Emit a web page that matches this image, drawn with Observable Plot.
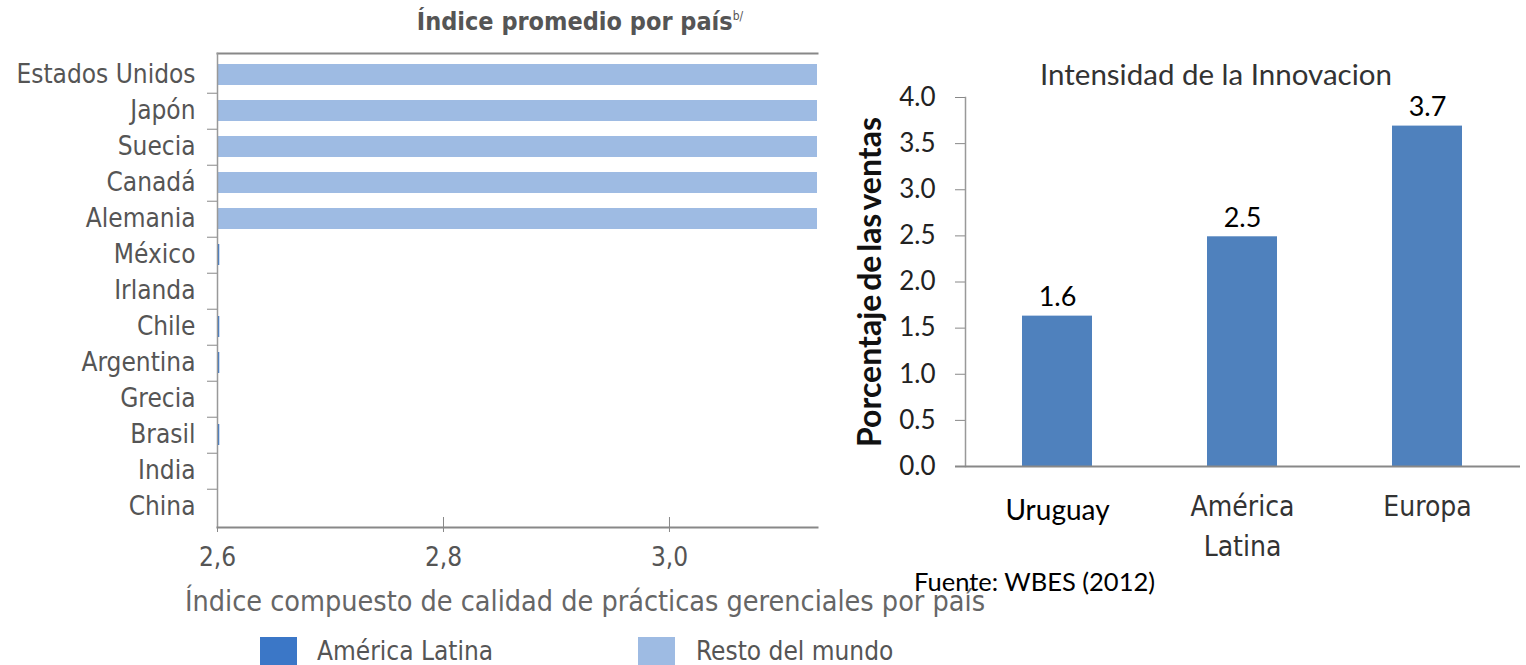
<!DOCTYPE html>
<html>
<head>
<meta charset="utf-8">
<script src="https://cdn.jsdelivr.net/npm/d3@7"></script>
<script src="https://cdn.jsdelivr.net/npm/@observablehq/plot@0.6"></script>
<style>
  html, body { margin: 0; padding: 0; background: #fff; }
  #root { position: relative; width: 1526px; height: 665px; overflow: hidden; background: #fff; }
  .abs { position: absolute; white-space: nowrap; }
  .cond { font-family: "DejaVu Sans Condensed", "DejaVu Sans", sans-serif; }
  svg { background: transparent !important; }
</style>
</head>
<body>
<div id="root">
  <div id="left" class="abs" style="left:0;top:0;"></div>
  <div id="right" class="abs" style="left:830px;top:0;"></div>
  <div class="abs cond" style="left:380px;top:7px;width:400px;text-align:center;font-weight:bold;font-size:25px;color:#555;">Índice promedio por país<sup style="font-size:12px;font-weight:normal;vertical-align:10px;">b/</sup></div>
  <div class="abs cond" style="left:0;top:585px;width:1170px;text-align:center;font-size:28.5px;color:#666;">Índice compuesto de calidad de prácticas gerenciales por país</div>
  <div id="legend"></div>
  <div class="abs" style="left:914px;top:566px;font-family:Lato,sans-serif;font-size:25.5px;color:#000;">Fuente: WBES (2012)</div>
  <div class="abs" style="left:868px;top:282px;transform:translate(-50%,-50%) rotate(-90deg);font-family:Lato,sans-serif;font-weight:bold;font-size:32px;color:#111;word-spacing:-4px;">Porcentaje de las ventas</div>
  <div class="abs" style="left:1016px;top:56px;width:400px;text-align:center;font-family:Lato,sans-serif;font-size:29.5px;color:#333;">Intensidad de la Innovacion</div>
</div>
<script>
// ---- Left chart data ----
const countries = ["Estados Unidos","Japón","Suecia","Canadá","Alemania","México","Irlanda","Chile","Argentina","Grecia","Brasil","India","China"];
const indexValues = [3.33, 3.23, 3.20, 3.17, 3.16, 2.602, 2.600, 2.602, 2.602, 2.600, 2.602, 2.600, 2.600];
const countryGroups = ["Resto del mundo","Resto del mundo","Resto del mundo","Resto del mundo","Resto del mundo","América Latina","Resto del mundo","América Latina","América Latina","Resto del mundo","América Latina","Resto del mundo","Resto del mundo"];
const groupNames = ["América Latina","Resto del mundo"];
const groupColors = ["#3b77c7","#9ebbe3"];
const xTicks = [2.6, 2.8, 3.0];

// ---- Right chart data ----
const regions = ["Uruguay","América Latina","Europa"];
const regionLabels = ["Uruguay","América\nLatina","Europa"];
const intensity = [1.63, 2.49, 3.69];
const yTicks = [0, 0.5, 1.0, 1.5, 2.0, 2.5, 3.0, 3.5, 4.0];

const leftData = countries.map((c, i) => ({country: c, value: indexValues[i], group: countryGroups[i]}));
const rightData = regions.map((r, i) => ({region: r, label: regionLabels[i], value: intensity[i]}));

const xMin = 2.6, xMax = 3.131;
const unitPerPx = (xMax - xMin) / 600;
const step = 474 / countries.length;

const left = Plot.plot({
  width: 830, height: 580,
  marginTop: 53, marginBottom: 53, marginLeft: 217, marginRight: 13,
  style: {fontFamily: "'DejaVu Sans Condensed', 'DejaVu Sans', sans-serif", fontSize: "26px", color: "#555", background: "transparent", overflow: "visible"},
  x: {domain: [xMin, xMax]},
  y: {domain: countries, paddingInner: 0.42, paddingOuter: 0.21},
  color: {domain: groupNames, range: groupColors},
  marks: [
    Plot.barX(leftData, {x1: xMin, x2: "value", y: "country", fill: "group", clip: true}),
    Plot.axisY({tickSize: 0, tickPadding: 22, label: null}),
    Plot.axisX({ticks: xTicks, tickSize: 5, tickPadding: 15, tickFormat: d => d.toFixed(1).replace(".", ","), label: null, stroke: "#888"}),
    Plot.tickX(xTicks, {x: d => d, insetTop: 464, stroke: "#888"}),
    Plot.ruleY(countries.slice(0, -1), {y: d => d, dy: step / 2, x1: xMin - 10 * unitPerPx, x2: xMin, stroke: "#888"}),
    Plot.frame({anchor: "top", stroke: "#888", strokeWidth: 2}),
    Plot.frame({anchor: "left", stroke: "#999", strokeWidth: 1.5}),
    Plot.frame({anchor: "bottom", stroke: "#888", strokeWidth: 2})
  ]
});
document.getElementById("left").appendChild(left);

const right = Plot.plot({
  width: 696, height: 620,
  marginTop: 97, marginBottom: 154, marginLeft: 135, marginRight: 6,
  style: {fontFamily: "Lato, sans-serif", fontSize: "26px", color: "#222", background: "transparent", overflow: "visible"},
  x: {domain: regions, paddingInner: 0.62, paddingOuter: 0.31, axis: null},
  y: {domain: [0, 4]},
  marks: [
    Plot.barY(rightData, {x: "region", y: "value", fill: "#4f81bd"}),
    Plot.text(rightData, {x: "region", y: "value", text: d => d.value.toFixed(1), lineAnchor: "bottom", dy: -10, fill: "#000", fontSize: 27}),
    Plot.axisY({ticks: yTicks, tickSize: 10, tickPadding: 20, tickFormat: d => d.toFixed(1), label: null, stroke: "#888"}),
    Plot.frame({anchor: "left", stroke: "#999", strokeWidth: 1.5}),
    Plot.ruleY([0], {stroke: "#888", strokeWidth: 2, insetLeft: -10}),
    Plot.text(rightData.filter(d => d.region === "Uruguay"), {x: "region", text: "label", frameAnchor: "bottom", lineAnchor: "middle", dy: 45, fill: "#000", fontSize: 28}),
    Plot.text(rightData.filter(d => d.region !== "Uruguay"), {x: "region", text: "label", frameAnchor: "bottom", lineAnchor: "top", dy: 20, lineHeight: 1.46, fill: "#333", fontSize: 28, fontFamily: "'DejaVu Sans Condensed', 'DejaVu Sans', sans-serif"})
  ]
});
document.getElementById("right").appendChild(right);

// legend
const legend = document.getElementById("legend");
const legendPos = [{x: 260, tx: 317}, {x: 638, tx: 696}];
groupNames.forEach((g, i) => {
  const sw = document.createElement("div");
  sw.className = "abs";
  sw.style.cssText = `left:${legendPos[i].x}px;top:637px;width:37px;height:30px;background:${groupColors[i]};`;
  legend.appendChild(sw);
  const t = document.createElement("div");
  t.className = "abs cond";
  t.style.cssText = `left:${legendPos[i].tx}px;top:636px;font-size:26px;color:#555;`;
  t.textContent = g;
  legend.appendChild(t);
});
</script>
</body>
</html>
